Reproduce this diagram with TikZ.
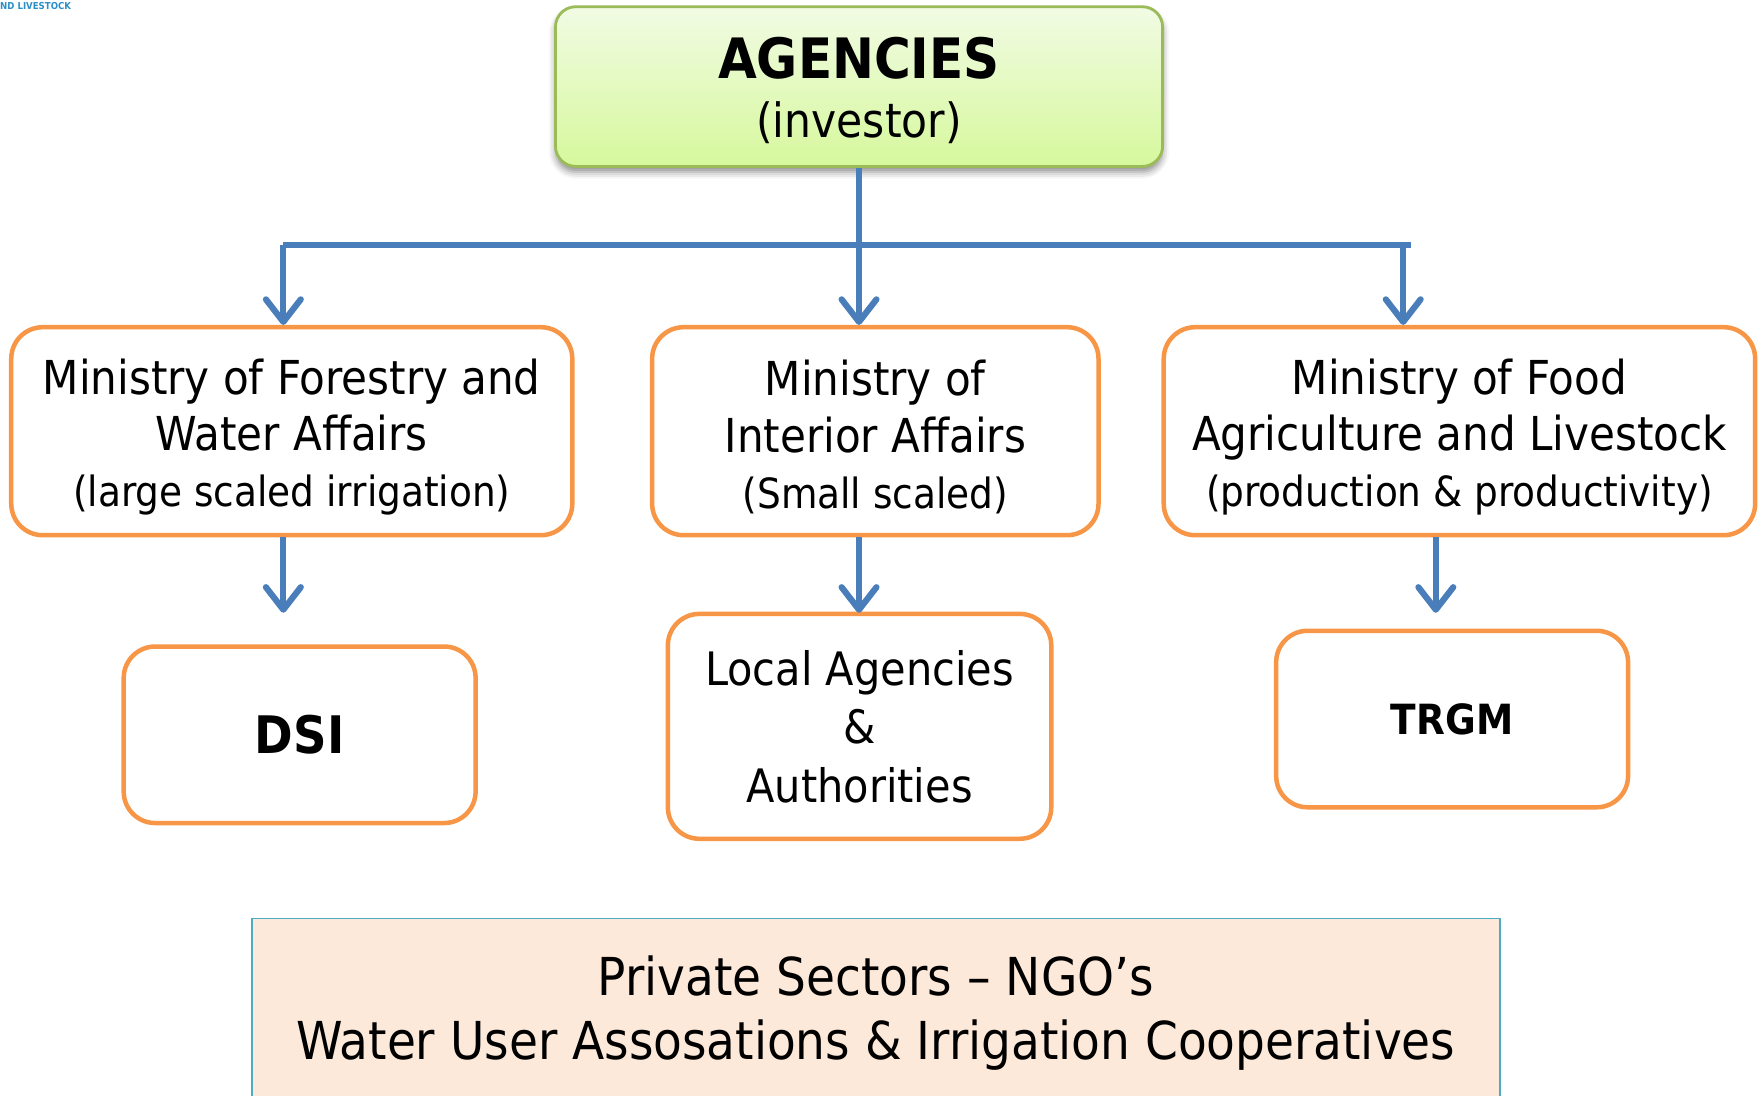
\documentclass[tikz,border=0pt]{standalone}
\usepackage{fontspec}
\usepackage{graphicx}
\setmainfont{DejaVu Sans Condensed}
\usetikzlibrary{arrows.meta,shadows.blur}
\definecolor{flowblue}{RGB}{74,126,187}
\definecolor{boxorange}{RGB}{247,150,70}
\definecolor{agborder}{RGB}{155,187,89}
\definecolor{agtop}{RGB}{241,251,228}
\definecolor{agbot}{RGB}{214,248,156}
\definecolor{privfill}{RGB}{253,233,217}
\definecolor{privborder}{RGB}{75,172,198}
\definecolor{logoblue}{RGB}{42,143,200}
\tikzset{
  agbox/.style={draw=agborder, line width=2.5pt, rounded corners=18pt,
    top color=agtop, bottom color=agbot, align=center,
    minimum width=540pt, minimum height=142pt, inner sep=0pt,
    font=\fontsize{42}{55}\selectfont,
    blur shadow={shadow xshift=0pt, shadow yshift=-5pt, shadow blur radius=6pt, shadow opacity=45}},
  minbox/.style={draw=boxorange, line width=4pt, rounded corners=28pt, fill=white,
    align=center, minimum height=185pt, inner sep=0pt,
    font=\fontsize{41.6}{50}\selectfont},
  unitbox/.style={draw=boxorange, line width=4pt, rounded corners=28pt, fill=white,
    align=center, minimum width=313pt, inner sep=0pt},
  privbox/.style={draw=privborder, line width=1.5pt, fill=privfill, align=center,
    minimum width=1110pt, minimum height=165pt, inner sep=0pt,
    font=\fontsize{46.5}{57}\selectfont},
  bus/.style={draw=flowblue, line width=5pt},
  arr/.style={draw=flowblue, line width=5.5pt,
    -{Straight Barb[length=20pt,width=31pt,round]}},
}
\newcommand{\topstrut}{\rule{0pt}{42pt}}
\begin{document}
\begin{tikzpicture}[x=1pt,y=-1pt]
\useasboundingbox (0,0) rectangle (1568,974);

% header fragment at the upper left
\node[anchor=west, text=logoblue, inner sep=0pt, font=\fontsize{8.5}{9}\selectfont\bfseries] (logo) at (0,5) {ND LIVESTOCK};

% investor box
\node[agbox] (top) at (764,77) {\rule{0pt}{44pt}{\fontsize{49.5}{55}\selectfont\bfseries AGENCIES}\\[-3pt](investor)};

% ministries
\node[minbox, minimum width=499pt] (m1) at (259.5,383.5) {\topstrut Ministry of Forestry and\\Water Affairs\\{\fontsize{37}{50}\selectfont (large scaled irrigation)}};
\node[minbox, minimum width=397pt] (m2) at (778.5,383.5) {\topstrut Ministry of\\Interior Affairs\\{\fontsize{37}{50}\selectfont (Small scaled)}};
\node[minbox, minimum width=526pt] (m3) at (1298,383.5) {\topstrut Ministry of Food\\Agriculture and Livestock\\{\fontsize{37}{50}\selectfont (production \& productivity)}};

% executing units
\node[unitbox, minimum height=157pt, font=\fontsize{46}{50}\selectfont\bfseries] (dsi) at (266.5,653.5) {DSI};
\node[unitbox, minimum width=341pt, minimum height=200pt, font=\fontsize{41}{52}\selectfont] (loc) at (764.5,646) {Local Agencies\\\&\\Authorities};
\node[unitbox, minimum height=157pt, font=\fontsize{37}{40}\selectfont\bfseries] (trgm) at (1291.5,639.5) {TRGM};

% private sector band
\node[privbox] (priv) at (779,899.5) {\rule{0pt}{39pt}Private Sectors -- NGO’s\\Water User Assosations \& Irrigation Cooperatives};

% distribution bus
\coordinate (bus) at (764,218);
\coordinate (busL) at (252,218);
\coordinate (busR) at (1255,218);
\coordinate (busR2) at (1248,218);
\draw[bus] (top.south) -- (bus);
\draw[bus] (busL) -- (busR);
\draw[arr] (busL) -- (busL |- m1.north);
\draw[arr] (bus) -- (bus |- m2.north);
\draw[arr] (busR2) -- (busR2 |- m3.north);

% arrows down to the units
\coordinate (a1) at (252,545);
\coordinate (a2) at (764,545);
\coordinate (a3) at (1277,545);
\draw[arr] (a1 |- m1.south) -- (a1);
\draw[arr] (a2 |- m2.south) -- (a2);
\draw[arr] (a3 |- m3.south) -- (a3);
\end{tikzpicture}
\end{document}
